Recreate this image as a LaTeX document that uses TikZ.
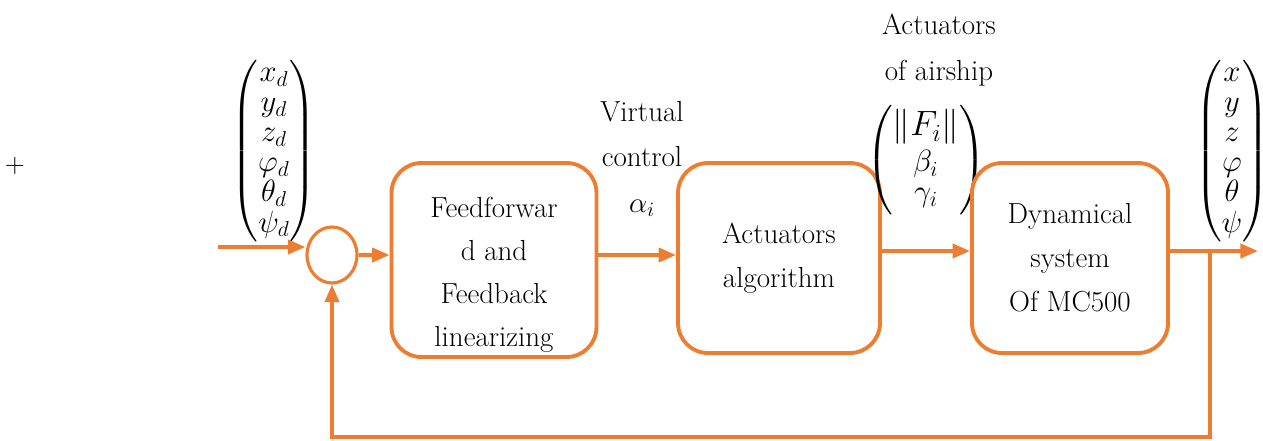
\documentclass[tikz,border=0pt]{standalone}
\usepackage{fix-cm}
\usepackage{amsmath}
\usetikzlibrary{arrows.meta,shapes.geometric}
\definecolor{boxorange}{RGB}{237,125,49}

\begin{document}
\begin{tikzpicture}[x=0.02cm,y=-0.02cm,
	block/.style={draw=boxorange,line width=2.2pt,rounded corners=17pt,align=center,font=\fontsize{16.5}{25}\selectfont},
	lbl/.style={align=center,inner sep=0pt,font=\fontsize{16.5}{26}\selectfont},
	vec/.style={inner sep=0pt,font=\fontsize{17.5}{17}\selectfont},
	flow/.style={draw=boxorange,line width=2.2pt,-{Triangle[length=10pt,width=8pt]}}]
	\useasboundingbox (0,0) rectangle (1263,440);

	\node[font=\fontsize{15}{15}\selectfont] (plus) at (15,166) {$+$};
	\node[vec] (ref) at (274,151) {$\begin{pmatrix} x_d\\ y_d\\ z_d\\ \varphi_d\\ \theta_d\\ \psi_d \end{pmatrix}$};
	\node[ellipse,draw=boxorange,line width=1.8pt,minimum width=1cm,minimum height=1.12cm] (sum) at (332,255) {};

	\node[block,minimum width=4.1cm,minimum height=3.88cm] (ffb) at (494,260) {};
	\node[lbl,font=\fontsize{16.5}{24.5}\selectfont] (fft) at (494,275) {Feedforwar\\d and\\Feedback\\linearizing};

	\node[lbl] (vc) at (642,159) {Virtual\\control\\$\alpha_i$};
	\node[block,minimum width=4.04cm,minimum height=3.8cm] (alg) at (779,258) {Actuators\\algorithm};

	\node[lbl] (act) at (939,50) {Actuators\\of airship};
	\node[vec] (force) at (926,160) {$\begin{pmatrix} \mbox{\fontsize{20}{20}\selectfont$\left\|F_i\right\|$}\\[3pt] \beta_i\\ \gamma_i \end{pmatrix}$};
	\node[block,minimum width=3.92cm,minimum height=3.8cm] (dyn) at (1070,258) {Dynamical\\system\\Of MC500};

	\node[vec] (state) at (1232,151) {$\begin{pmatrix} x\\ y\\ z\\ \varphi\\ \theta\\ \psi \end{pmatrix}$};

	\coordinate (in) at (218,247);
	\coordinate (out) at (1258,251);
	\coordinate (br) at (1210,251);
	\coordinate (fb) at (1210,437);

	\draw[flow] (in) -- (in -| sum.west);
	\draw[flow] (sum.east) -- (sum.east -| ffb.west);
	\draw[flow] (ffb.east |- sum.east) -- (sum.east -| alg.west);
	\draw[flow] (alg.east |- out) -- (out -| dyn.west);
	\draw[flow] (dyn.east |- out) -- (out);
	\draw[flow] (br) -- (fb) -| (sum.south);
\end{tikzpicture}
\end{document}
